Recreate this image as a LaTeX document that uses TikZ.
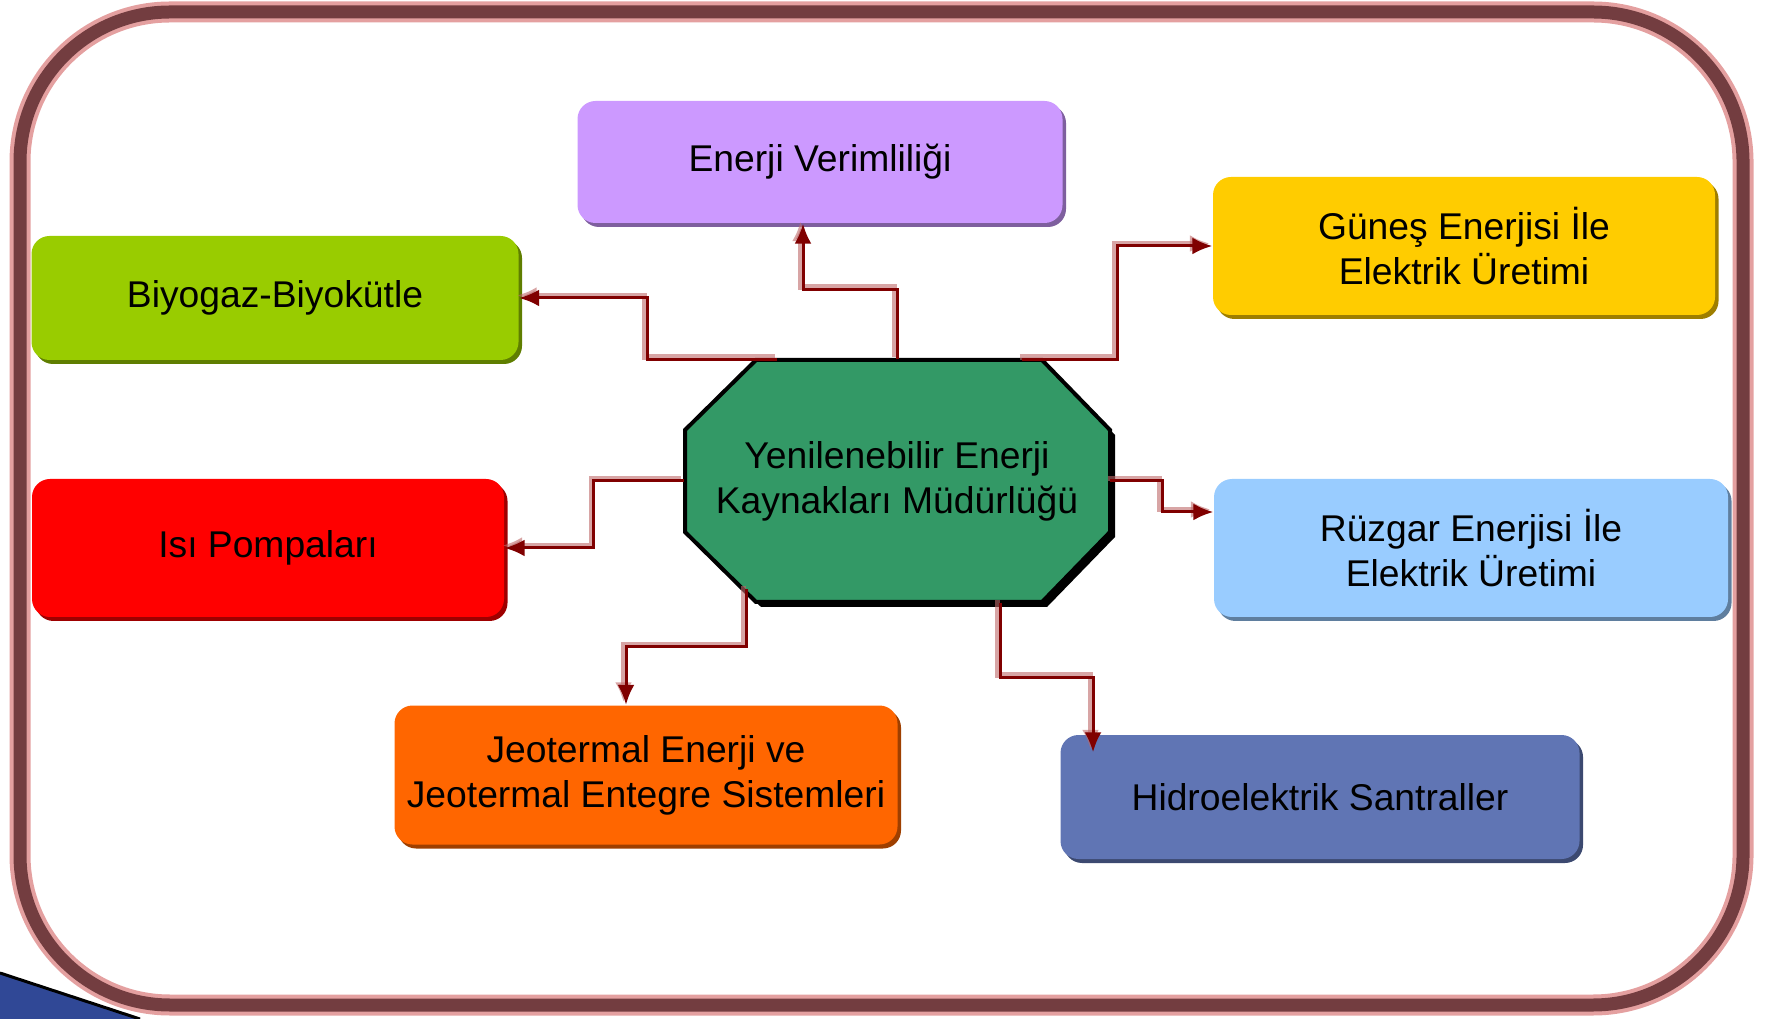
\documentclass[tikz,border=0pt]{standalone}
\usepackage{fontspec}
\setmainfont{Liberation Sans}
\usetikzlibrary{arrows.meta,calc,positioning,shadows}
\definecolor{frameColor}{RGB}{115,61,64}
\definecolor{glowColor}{RGB}{228,160,160}
\definecolor{linkColor}{RGB}{128,0,0}
\definecolor{linkShade}{RGB}{190,105,105}
\definecolor{verimColor}{RGB}{204,153,255}
\definecolor{gunesColor}{RGB}{255,204,0}
\definecolor{biyoColor}{RGB}{153,204,0}
\definecolor{isiColor}{RGB}{255,0,0}
\definecolor{ruzgarColor}{RGB}{153,204,255}
\definecolor{jeoColor}{RGB}{255,102,0}
\definecolor{hidroColor}{RGB}{96,117,180}
\definecolor{hubColor}{RGB}{51,153,102}
\definecolor{swooshColor}{RGB}{48,72,150}
\tikzset{component/.style={fill=#1, align=center, rounded corners=1.8mm, font=\fontsize{10.6}{12.8}\selectfont, drop shadow={fill=#1!62!black, opacity=1, shadow xshift=.35mm, shadow yshift=-.4mm}}}
\tikzset{hubShape/.style={fill=hubColor, draw=black, line width=.4mm, line join=miter, drop shadow={fill=black, opacity=1, shadow xshift=.5mm, shadow yshift=-.5mm}}}
\tikzset{hubText/.style={align=center, font=\fontsize{10.6}{12.8}\selectfont}}
\tikzset{link/.style={draw=linkColor, line width=.3mm, -{Latex[length=2mm,width=1.7mm]}, preaction={draw=linkShade, opacity=.6, line width=.55mm, transform canvas={xshift=-.25mm,yshift=.25mm}}}}

\begin{document}
\begin{tikzpicture}[x=0.1mm, y=-0.1mm]

    \useasboundingbox (0,0) rectangle (1766,1019);

    % Frame
    \fill[swooshColor] (0,973) -- (140,1019) -- (0,1019) -- cycle;
    \draw[black, line width=.3mm] (0,973) -- (140,1019);
    \draw[glowColor, line width=2.1mm, rounded corners=15mm] (20,12) rectangle (1743,1005);
    \draw[frameColor, line width=1.3mm, rounded corners=15mm] (20,12) rectangle (1743,1005);

    % Octagon
    \draw[hubShape, shift={(897,481)}] (-141,-121) -- (145,-121) -- (213,-51) -- (213,51) -- (145,121) -- (-141,121) -- (-212,51) -- (-212,-51) -- cycle;

    % Nodes
    \node (merkez) [hubText, minimum width=42.5mm, minimum height=24.2mm] at (897,481) {Yenilenebilir Enerji\\Kaynakları Müdürlüğü};
    \node (verim) [component=verimColor, minimum width=48.5mm, minimum height=12.2mm] at (820,162) {Enerji Verimliliği};
    \node (gunes) [component=gunesColor, minimum width=50.2mm, minimum height=13.8mm] at (1464,246) {Güneş Enerjisi İle\\Elektrik Üretimi};
    \node (biyo) [component=biyoColor, minimum width=48.7mm, minimum height=12.4mm] at (275,298) {Biyogaz-Biyokütle};
    \node (isi) [component=isiColor, minimum width=47.2mm, minimum height=13.8mm] at (268,548) {Isı Pompaları};
    \node (ruzgar) [component=ruzgarColor, minimum width=51.4mm, minimum height=13.8mm] at (1471,548) {Rüzgar Enerjisi İle\\Elektrik Üretimi};
    \node (jeo) [component=jeoColor, minimum width=50.3mm, minimum height=13.9mm] at (646,775) {Jeotermal Enerji ve\\Jeotermal Entegre Sistemleri};
    \node (hidro) [component=hidroColor, minimum width=51.9mm, minimum height=12.4mm] at (1320,797) {Hidroelektrik Santraller};

    % Connectors
    \begin{scope}

        \draw [link] ([xshift=-12mm]merkez.north) -- ++(-130,0) |- (biyo.east);
        \draw [link] (merkez.north) -- ++(0,-70) -| ([xshift=-1.7mm]verim.south);
        \draw [link] ([xshift=12.5mm]merkez.north) -- ++(95,0) |- (gunes.west);
        \draw [link] (merkez.west) -- ++(-90,0) |- (isi.east);
        \draw [link] (merkez.east) -- ++(52,0) |- ([yshift=3.6mm]ruzgar.west);
        \draw [link] ($(merkez.center)+(-151,108)$) -- ++(0,58) -| ([xshift=-2mm]jeo.north);
        \draw [link] ([xshift=10.3mm]merkez.south) -- ++(0,75) -| ([xshift=-22.7mm,yshift=-1.8mm]hidro.north);

    \end{scope}

\end{tikzpicture}
\end{document}
